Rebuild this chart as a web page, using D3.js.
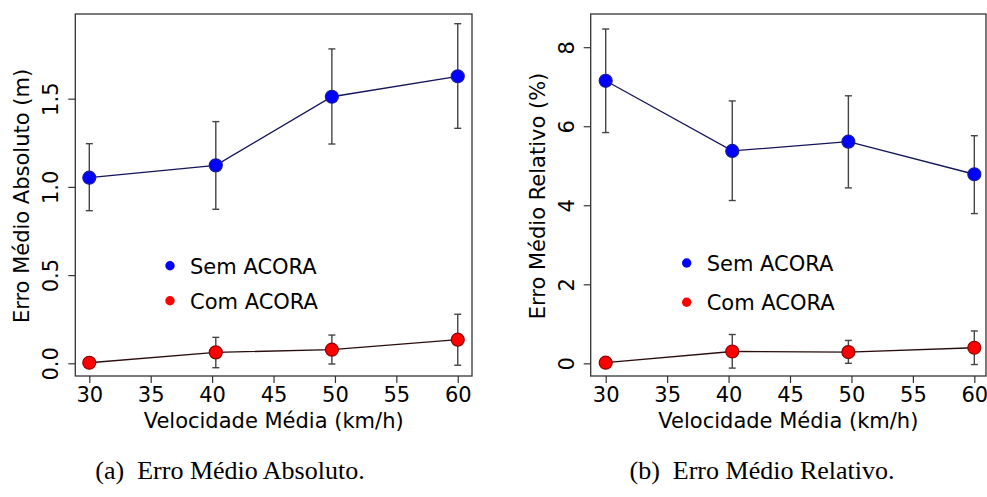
<!DOCTYPE html>
<html lang="pt">
<head>
<meta charset="UTF-8" />
<title>Erro Médio</title>
<script src="https://cdn.jsdelivr.net/npm/d3@7"></script>
<style>
  body { margin: 0; background: #fff; }
  svg { display: block; }
  .tick text { font-family: "DejaVu Sans", sans-serif; font-size: 21px; fill: #000; }
  .tick line { stroke: #333; stroke-width: 1.2; }
</style>
</head>
<body>
<div id="app"></div>
<script>
// speeds (km/h) on the x axis
const speeds = [30, 40.3, 49.75, 60]
const xTicks = [30, 35, 40, 45, 50, 55, 60]

// (a) absolute error, metres
const absSem = [1.052, 1.122, 1.511, 1.627]
const absSemLo = [0.865, 0.873, 1.243, 1.332]
const absSemHi = [1.245, 1.370, 1.782, 1.925]
const absCom = [0.003, 0.062, 0.077, 0.134]
const absComLo = [0.003, -0.025, -0.004, -0.011]
const absComHi = [0.003, 0.147, 0.160, 0.278]
const absTicks = [0, 0.5, 1.0, 1.5]

// (b) relative error, %
const relSem = [7.15, 5.375, 5.61, 4.785]
const relSemLo = [5.84, 4.12, 4.44, 3.79]
const relSemHi = [8.46, 6.64, 6.77, 5.76]
const relCom = [0.016, 0.30, 0.286, 0.395]
const relComLo = [0.016, -0.12, 0.0, -0.03]
const relComHi = [0.016, 0.73, 0.58, 0.82]
const relTicks = [0, 2, 4, 6, 8]

const seriesNames = ['Sem ACORA', 'Com ACORA']

const W = 987, H = 497
const svg = d3.select('#app').append('svg').attr('width', W).attr('height', H)

function panel(opt) {
  const x = d3.scaleLinear().domain(opt.xDomain).range([opt.left, opt.right])
  const y = d3.scaleLinear().domain(opt.yDomain).range([opt.bottom, opt.top])
  const g = svg.append('g')

  // x axis (ticks only, the box is the line)
  const gx = g.append('g')
    .attr('transform', `translate(0,${opt.bottom})`)
    .call(d3.axisBottom(x).tickValues(xTicks).tickSize(7).tickPadding(4).tickFormat(d3.format('d')))
  gx.select('.domain').remove()

  const gy = g.append('g')
    .attr('transform', `translate(${opt.left},0)`)
    .call(d3.axisLeft(y).tickValues(opt.yTicks).tickSize(7).tickFormat(opt.yFormat))
  gy.select('.domain').remove()
  gy.selectAll('.tick text')
    .attr('x', 0).attr('dy', null)
    .attr('text-anchor', 'middle')
    .attr('transform', 'translate(-17,0) rotate(-90)')

  // box
  g.append('rect')
    .attr('x', opt.left).attr('y', opt.top)
    .attr('width', opt.right - opt.left).attr('height', opt.bottom - opt.top)
    .attr('fill', 'none').attr('stroke', '#333').attr('stroke-width', 1.3)

  // titles
  g.append('text')
    .attr('x', (opt.left + opt.right) / 2).attr('y', opt.bottom + 52)
    .attr('text-anchor', 'middle')
    .style('font-family', '"DejaVu Sans", sans-serif').style('font-size', '21px')
    .text('Velocidade Média (km/h)')
  g.append('text')
    .attr('transform', `translate(${opt.left - 46},196) rotate(-90)`)
    .attr('text-anchor', 'middle')
    .style('font-family', '"DejaVu Sans", sans-serif').style('font-size', '21px')
    .text(opt.yTitle)

  const series = [
    { v: opt.sem, lo: opt.semLo, hi: opt.semHi, fill: '#0000ff', stroke: '#1a1a9a', line: '#14145a' },
    { v: opt.com, lo: opt.comLo, hi: opt.comHi, fill: '#ff0000', stroke: '#8a0000', line: '#2a0c0c' }
  ]

  series.forEach(s => {
    const pts = speeds.map((sp, i) => ({ x: sp, v: s.v[i], lo: s.lo[i], hi: s.hi[i] }))
    // error bars
    const eb = g.append('g').selectAll('g').data(pts.filter(p => p.hi - p.lo > 0.001)).join('g')
      .attr('stroke', '#444').attr('stroke-width', 1.4)
    eb.append('line')
      .attr('x1', d => x(d.x)).attr('x2', d => x(d.x))
      .attr('y1', d => y(d.lo)).attr('y2', d => y(d.hi))
    eb.append('line')
      .attr('x1', d => x(d.x) - 3.5).attr('x2', d => x(d.x) + 3.5)
      .attr('y1', d => y(d.lo)).attr('y2', d => y(d.lo))
    eb.append('line')
      .attr('x1', d => x(d.x) - 3.5).attr('x2', d => x(d.x) + 3.5)
      .attr('y1', d => y(d.hi)).attr('y2', d => y(d.hi))

    g.append('path').datum(pts)
      .attr('fill', 'none').attr('stroke', s.line).attr('stroke-width', 1.3)
      .attr('d', d3.line().x(d => x(d.x)).y(d => y(d.v)))

    g.append('g').selectAll('circle').data(pts).join('circle')
      .attr('cx', d => x(d.x)).attr('cy', d => y(d.v)).attr('r', 6.5)
      .attr('fill', s.fill).attr('stroke', s.stroke).attr('stroke-width', 1.2)
  })

  // legend
  const lg = g.append('g')
  seriesNames.forEach((name, i) => {
    const ly = opt.legY[i]
    lg.append('circle').attr('cx', opt.legX).attr('cy', ly).attr('r', 4.7)
      .attr('fill', i === 0 ? '#0000ff' : '#ff0000')
    lg.append('text').attr('x', opt.legX + 20).attr('y', ly + 7.8)
      .style('font-family', '"DejaVu Sans", sans-serif').style('font-size', '21px')
      .text(name)
  })

  // caption
  svg.append('text')
    .attr('x', opt.capX).attr('y', 479)
    .attr('text-anchor', 'middle')
    .style('white-space', 'pre')
    .style('font-family', '"Liberation Serif", "Times New Roman", serif').style('font-size', '26px')
    .text(opt.caption)
}

panel({
  left: 75.3, right: 472, top: 14, bottom: 376,
  xDomain: [28.86, 61.16], yDomain: [-0.072, 1.98],
  yTicks: absTicks, yFormat: d3.format('.1f'),
  yTitle: 'Erro Médio Absoluto (m)',
  sem: absSem, semLo: absSemLo, semHi: absSemHi,
  com: absCom, comLo: absComLo, comHi: absComHi,
  legX: 170, legY: [265.7, 300.7],
  caption: '(a)  Erro Médio Absoluto.', capX: 230
})

panel({
  left: 590.7, right: 986, top: 14, bottom: 376,
  xDomain: [28.78, 60.95], yDomain: [-0.32, 8.84],
  yTicks: relTicks, yFormat: d3.format('d'),
  yTitle: 'Erro Médio Relativo (%)',
  sem: relSem, semLo: relSemLo, semHi: relSemHi,
  com: relCom, comLo: relComLo, comHi: relComHi,
  legX: 686.7, legY: [263, 302.3],
  caption: '(b)  Erro Médio Relativo.', capX: 762
})
</script>
</body>
</html>
